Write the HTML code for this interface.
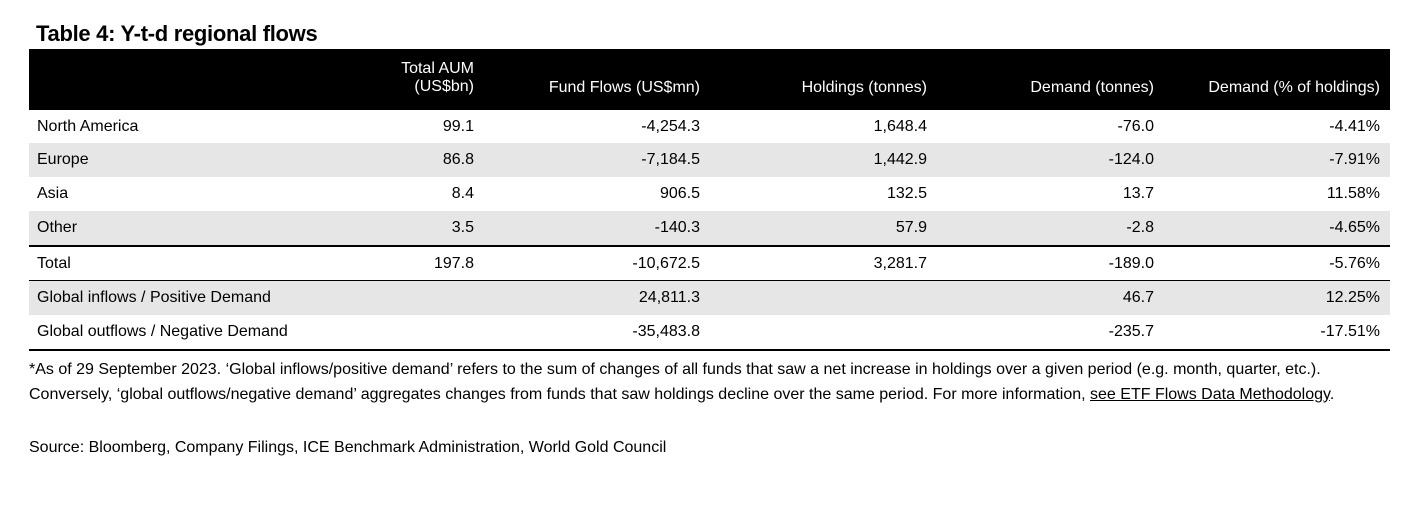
<!DOCTYPE html>
<html><head><meta charset="utf-8"><style>
body{margin:0;width:1414px;height:526px;background:#fff;font-family:"Liberation Sans",Arial,sans-serif;color:#000;position:relative;overflow:hidden}
.t{position:absolute;left:36px;top:21px;font-size:22px;font-weight:bold;letter-spacing:-0.3px}
.hdr{position:absolute;left:29px;top:49px;width:1361px;height:61px;background:#000}
.h{position:absolute;color:#fff;font-size:16px;text-align:right;line-height:18px}
.row{position:absolute;left:29px;width:1361px;height:34px}
.g{background:#e6e6e6}
.c{position:absolute;top:0;line-height:34px;font-size:16px;white-space:nowrap}
.r{text-align:right}
.line{position:absolute;left:29px;width:1361px;background:#000}
.fn{position:absolute;left:29px;font-size:16px;line-height:24.5px;width:1360px}
</style></head><body>
<div class="t">Table 4: Y-t-d regional flows</div>
<div class="hdr">
<div class="h" style="right:916px;top:11px">Total AUM<br>(US$bn)</div>
<div class="h" style="right:690px;top:30px">Fund Flows (US$mn)</div>
<div class="h" style="right:463px;top:30px">Holdings (tonnes)</div>
<div class="h" style="right:236px;top:30px">Demand (tonnes)</div>
<div class="h" style="right:10px;top:30px">Demand (% of holdings)</div>
</div>
<div id="rows"></div>
<div class="line" style="top:245px;height:2px"></div>
<div class="line" style="top:280px;height:1px"></div>
<div class="line" style="top:349px;height:2px"></div>
<div class="fn" style="top:358px">*As of 29 September 2023. ‘Global inflows/positive demand’ refers to the sum of changes of all funds that saw a net increase in holdings over a given period (e.g. month, quarter, etc.). Conversely, ‘global outflows/negative demand’ aggregates changes from funds that saw holdings decline over the same period. For more information, <span style="text-decoration:underline">see ETF Flows Data Methodology</span>.</div>
<div class="fn" style="top:436px">Source: Bloomberg, Company Filings, ICE Benchmark Administration, World Gold Council</div>
<script>
const labels=["North America","Europe","Asia","Other","Total","Global inflows / Positive Demand","Global outflows / Negative Demand"];
const aum=["99.1","86.8","8.4","3.5","197.8","",""];
const flows=["-4,254.3","-7,184.5","906.5","-140.3","-10,672.5","24,811.3","-35,483.8"];
const holdings=["1,648.4","1,442.9","132.5","57.9","3,281.7","",""];
const demand=["-76.0","-124.0","13.7","-2.8","-189.0","46.7","-235.7"];
const demandPct=["-4.41%","-7.91%","11.58%","-4.65%","-5.76%","12.25%","-17.51%"];
const tops=[110,143,177,211,247,281,315];
const grey=[false,true,false,true,false,true,false];
const rightEdges=[916,690,463,236,10];
const cont=document.getElementById('rows');
labels.forEach((l,i)=>{
const row=document.createElement('div');
row.className='row'+(grey[i]?' g':'');
row.style.top=tops[i]+'px';


const lab=document.createElement('div');
lab.className='c';lab.style.left='8px';lab.textContent=l;


row.appendChild(lab);
[aum[i],flows[i],holdings[i],demand[i],demandPct[i]].forEach((v,j)=>{
const c=document.createElement('div');
c.className='c r';c.style.right=rightEdges[j]+'px';c.textContent=v;


row.appendChild(c);
});
cont.appendChild(row);
});
</script>
</body></html>
